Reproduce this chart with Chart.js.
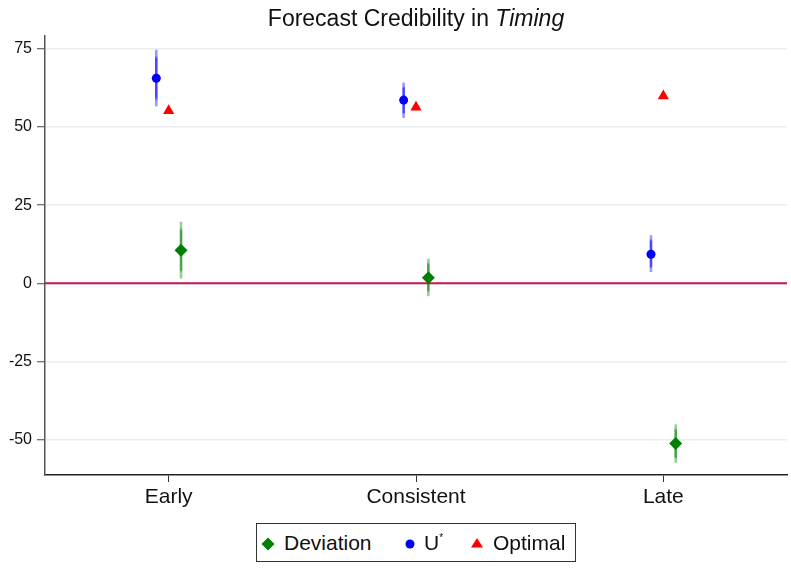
<!DOCTYPE html>
<html>
<head>
<meta charset="utf-8">
<script src="https://cdn.jsdelivr.net/npm/chart.js@4/dist/chart.umd.min.js"></script>
<style>
  html, body { margin: 0; padding: 0; background: #fff; }
  #wrap { position: relative; width: 791px; height: 571px; font-family: "Liberation Sans", Arial, Helvetica, sans-serif; color: #111; }
  canvas { position: absolute; left: 0; top: 0; }
  #title { position: absolute; left: 45px; width: 742px; top: 4px; text-align: center; font-size: 23px; line-height: 28px; }
  #legend { position: absolute; left: 256px; top: 523px; width: 318px; height: 37px; border: 1px solid #333; background: #fff; }
  .item { position: absolute; top: 0; height: 37px; line-height: 37px; font-size: 21px; white-space: nowrap; }
  .item svg { position: absolute; top: 13px; }
  .item span { position: absolute; top: 0; }
  sup { font-size: 10px; vertical-align: 0; position: relative; top: -9px; }
</style>
</head>
<body>
<div id="wrap">
  <canvas id="chart" width="791" height="571"></canvas>
  <div id="title">Forecast Credibility in <i>Timing</i></div>
  <div id="legend"></div>
</div>
<script>
// Categories and tick labels
const categories = ['Early', 'Consistent', 'Late'];
const yTicks = [-50, -25, 0, 25, 50, 75];

// Deviation estimates with confidence bounds
const deviation = [10.6, 1.8, -51.2];
const deviationLow = [1.5, -4.1, -57.4];
const deviationHigh = [19.7, 7.9, -45.1];

// U* estimates with confidence bounds
const uStar = [65.6, 58.6, 9.3];
const uStarLow = [56.6, 52.9, 3.6];
const uStarHigh = [74.7, 64.2, 15.4];

// Optimal values
const optimal = [55.2, 56.3, 59.9];

const seriesLabels = ['Deviation', 'U*', 'Optimal'];

// horizontal dodge of each series around its category (in category units)
const dodge = { deviation: 0.05, uStar: -0.05, optimal: 0 };

const GREEN = 'rgb(0,128,0)';
const BLUE = 'rgb(0,0,255)';
const RED = 'rgb(255,0,0)';

function points(values, shift) {
  return values.map((v, i) => ({ x: i + 1 + shift, y: v }));
}

const errorBars = [
  { values: deviation, low: deviationLow, high: deviationHigh, shift: dodge.deviation, rgb: [0, 128, 0] },
  { values: uStar, low: uStarLow, high: uStarHigh, shift: dodge.uStar, rgb: [0, 0, 255] }
];

// zero reference line and confidence spikes, drawn under the markers
const underlay = {
  id: 'underlay',
  beforeDatasetsDraw(chart) {
    const { ctx, chartArea, scales } = chart;
    const xs = scales.x, ys = scales.y;
    ctx.save();
    const y0 = ys.getPixelForValue(0);
    ctx.strokeStyle = '#c8174b';
    ctx.lineWidth = 2;
    ctx.beginPath();
    ctx.moveTo(chartArea.left, y0);
    ctx.lineTo(chartArea.right, y0);
    ctx.stroke();

    errorBars.forEach(s => {
      const [r, g, b] = s.rgb;
      s.values.forEach((v, i) => {
        const px = xs.getPixelForValue(i + 1 + s.shift);
        const top = ys.getPixelForValue(s.high[i]);
        const bot = ys.getPixelForValue(s.low[i]);
        const grad = ctx.createLinearGradient(0, top, 0, bot);
        const light = `rgba(${r},${g},${b},0.4)`;
        const dark = `rgba(${r},${g},${b},0.72)`;
        grad.addColorStop(0, light);
        grad.addColorStop(0.1, light);
        grad.addColorStop(0.16, dark);
        grad.addColorStop(0.84, dark);
        grad.addColorStop(0.9, light);
        grad.addColorStop(1, light);
        ctx.strokeStyle = grad;
        ctx.lineWidth = 2.6;
        ctx.beginPath();
        ctx.moveTo(px, top);
        ctx.lineTo(px, bot);
        ctx.stroke();
      });
    });
    ctx.restore();
  }
};

const chart = new Chart(document.getElementById('chart'), {
  type: 'scatter',
  data: {
    datasets: [
      { label: seriesLabels[0], data: points(deviation, dodge.deviation), pointStyle: 'rectRot', pointRadius: 6.5, backgroundColor: GREEN, borderColor: GREEN, borderWidth: 0 },
      { label: seriesLabels[1], data: points(uStar, dodge.uStar), pointStyle: 'circle', pointRadius: 4.5, backgroundColor: BLUE, borderColor: BLUE, borderWidth: 0 },
      { label: seriesLabels[2], data: points(optimal, dodge.optimal), pointStyle: 'triangle', pointRadius: 6.5, backgroundColor: RED, borderColor: RED, borderWidth: 0 }
    ]
  },
  options: {
    responsive: false,
    animation: false,
    devicePixelRatio: 1,
    layout: { autoPadding: false, padding: { top: 36, right: 4, left: 0, bottom: 0 } },
    plugins: { legend: { display: false }, title: { display: false }, tooltip: { enabled: false } },
    scales: {
      x: {
        type: 'linear', min: 0.5, max: 3.5,
        afterBuildTicks(scale) { scale.ticks = categories.map((c, i) => ({ value: i + 1 })); },
        afterFit(scale) { scale.height = 96; scale.paddingLeft = 0; scale.paddingRight = 0; },
        ticks: { callback: (v) => categories[Math.round(v) - 1] || '', font: { family: 'Liberation Sans', size: 21 }, color: '#111', padding: 3, maxRotation: 0 },
        grid: { drawOnChartArea: false, drawTicks: true, tickLength: 7, tickColor: '#333', tickWidth: 1 },
        border: { color: '#222', width: 1.5 }
      },
      y: {
        min: -61.3, max: 79.1,
        afterBuildTicks(scale) { scale.ticks = yTicks.map(v => ({ value: v })); },
        afterFit(scale) { scale.width = 45; },
        ticks: { font: { family: 'Liberation Sans', size: 16 }, color: '#111', padding: 5 },
        grid: { color: '#e8eef2', lineWidth: 1.5, tickLength: 8, tickColor: '#444', tickWidth: 1 },
        border: { color: '#555', width: 1.5 }
      }
    }
  },
  plugins: [underlay]
});

// Legend built from the dataset labels and marker styles
const markers = {
  rectRot: '<svg width="14" height="14" viewBox="0 0 14 14"><polygon points="7,0.5 13.5,7 7,13.5 0.5,7" fill="' + GREEN + '"/></svg>',
  circle: '<svg width="10" height="12" viewBox="0 0 10 12"><circle cx="5" cy="7" r="4.5" fill="' + BLUE + '"/></svg>',
  triangle: '<svg width="12" height="12" viewBox="0 0 12 12"><polygon points="6,1 12,10.5 0,10.5" fill="' + RED + '"/></svg>'
};
const legendPos = [
  { marker: 4, text: 27 },
  { marker: 148, text: 167 },
  { marker: 214, text: 236 }
];
const legend = document.getElementById('legend');
chart.data.datasets.forEach((ds, i) => {
  const item = document.createElement('div');
  item.className = 'item';
  item.style.left = '0px';
  const label = ds.label.endsWith('*')
    ? ds.label.slice(0, -1) + '<sup>*</sup>'
    : ds.label;
  item.innerHTML = markers[ds.pointStyle].replace('<svg ', '<svg style="left:' + legendPos[i].marker + 'px" ') +
    '<span style="left:' + legendPos[i].text + 'px">' + label + '</span>';
  legend.appendChild(item);
});
</script>
</body>
</html>
